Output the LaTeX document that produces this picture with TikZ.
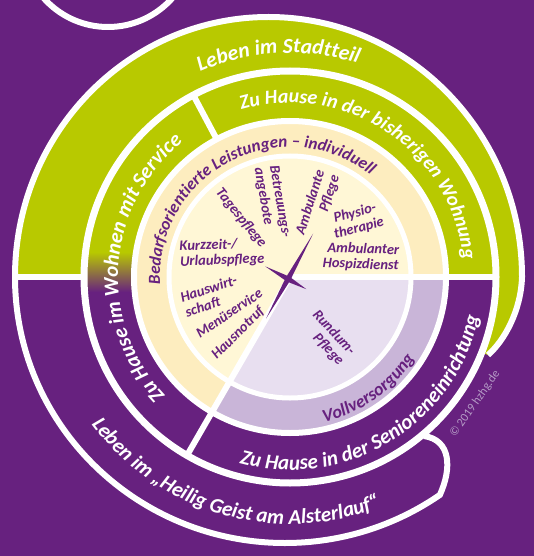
\documentclass[tikz,border=0pt]{standalone}
\usepackage{fontspec}
\setmainfont{Carlito}
\usetikzlibrary{decorations.text,calc}
\definecolor{bg}{HTML}{67217F}
\definecolor{lime}{HTML}{B8C900}
\definecolor{creamring}{HTML}{FDEDBF}
\definecolor{creamdisk}{HTML}{FFF7D6}
\definecolor{lavring}{HTML}{C9B5D8}
\definecolor{lavdisk}{HTML}{E8DFF0}
\definecolor{copyc}{HTML}{B59BC6}
\tikzset{
  wline/.style={white, line width=6pt},
  inlabel/.style={text=bg, font=\fontsize{14.5}{15.5}\selectfont\bfseries\itshape, inner sep=0pt},
}
\begin{document}
\begin{tikzpicture}[x=1pt,y=1pt]
\useasboundingbox (0,0) rectangle (534,-556);
\begin{scope}
\clip (0,0) rectangle (534,-556);
\fill[bg] (0,0) rectangle (534,-556);
% top-left decorative circle
\draw[wline] (108,59) circle[radius=86];

\coordinate (C) at (290,-277);
\coordinate (L) at (15,-277);
\coordinate (R) at (522,-277);
\coordinate (T) at (488,-355);

% outer green spiral band
\fill[lime] (L) arc[start angle=180, end angle=0, x radius=253.5, y radius=260]
   .. controls (521,-310) and (505,-340) .. (T) -- (C) -- cycle;
% outer white outline
\draw[wline] (T) .. controls (505,-340) and (521,-310) .. (R)
   arc[start angle=0, end angle=180, x radius=253.5, y radius=260]
   arc[start angle=180, end angle=305, x radius=270, y radius=266]
   .. controls (452,-468) and (451,-440) .. (424,-436);

% middle ring
\fill[lime] (C) -- ++(0:206) arc[start angle=0, end angle=118, radius=206] -- cycle;
\fill[bg] (C) -- ++(240:206) arc[start angle=240, end angle=360, radius=206] -- cycle;
\begin{scope}
\clip (C) -- ++(118:206) arc[start angle=118, end angle=240, radius=206] -- cycle;
\fill[lime] (0,0) rectangle (534,-252);
\shade[top color=lime, bottom color=bg] (0,-252) rectangle (534,-292);
\fill[bg] (0,-292) rectangle (534,-556);
\end{scope}
% cream / lavender ring
\fill[creamring] (C) circle[radius=156];
\fill[lavring] (C) -- ++(240:156) arc[start angle=240, end angle=360, radius=156] -- cycle;
% inner disk
\fill[creamdisk] (C) circle[radius=121];
\fill[lavdisk] (C) -- ++(240:121) arc[start angle=240, end angle=360, radius=121] -- cycle;

% white lines
\draw[white, line width=5pt] (C) circle[radius=121];
\draw[wline] (C) circle[radius=156];
\draw[white, line width=7pt] (C) circle[radius=206];
\draw[wline] (C) -- ($(C)+(0:206)$);
\draw[wline] (C) -- ($(C)+(240:206)$);
\draw[wline] ($(C)+(118:156)$) -- ($(C)+(118:206)$);
\draw[wline] (L) -- ($(C)+(180:206)$);

% arc texts
\path[decorate, decoration={text along path, text align=center, text color=white,
  text={|\fontsize{21.5}{21.5}\selectfont\bfseries\itshape|Leben im Stadtteil}}]
  ($(C)+(135:224)$) arc[start angle=135, end angle=51, radius=224];
\path[decorate, decoration={text along path, text align=center, text color=white,
  text={|\fontsize{20}{20}\selectfont\bfseries\itshape|Zu Hause in der bisherigen Wohnung}}]
  ($(C)+(116:174)$) arc[start angle=116, end angle=-4, radius=174];
\path[decorate, decoration={text along path, text align=center, text color=white,
  text={|\fontsize{21}{21}\selectfont\bfseries\itshape|Zu Hause im Wohnen mit Service}}]
  ($(C)+(238:172)$) arc[start angle=238, end angle=114, radius=172];
\path[decorate, decoration={text along path, text align=center, text color=white,
  text={|\fontsize{21}{21}\selectfont\bfseries\itshape|Zu Hause in der Senioreneinrichtung}}]
  ($(C)+(236:193)$) arc[start angle=236, end angle=367, radius=193];
\path[decorate, decoration={text along path, text align=center, text color=white,
  text={|\fontsize{21}{21}\selectfont\bfseries\itshape|Leben im „Heilig Geist am Alsterlauf“}}]
  ($(C)+(196:247)$) arc[start angle=196, end angle=312, radius=247];
\path[decorate, decoration={text along path, text align=center, text color=bg,
  text={|\fontsize{17}{17}\selectfont\bfseries\itshape|Bedarfsorientierte Leistungen – individuell}}]
  ($(C)+(192:130)$) arc[start angle=192, end angle=43, radius=130];
\path[decorate, decoration={text along path, text align=center, text color=bg,
  text={|\fontsize{18}{18}\selectfont\bfseries\itshape|Vollversorgung}}]
  ($(C)+(266:149)$) arc[start angle=266, end angle=344, radius=149];

% inner labels
\node[inlabel, rotate=-51] (tag) at (241,-218) {Tagespflege};
\node[inlabel, rotate=-80, align=left] (betr) at (272,-203) {Betreuungs-\\angebote};
\node[inlabel, rotate=72, align=right] (amb) at (318,-205) {Ambulante\\Pflege};
\node[inlabel, rotate=15, align=center] (phys) at (357,-221) {Physio-\\therapie};
\node[inlabel, rotate=-2, align=right] (hosp) at (361,-257) {Ambulanter\\Hospizdienst};
\node[inlabel, rotate=2, align=left] (kurz) at (222,-253) {Kurzzeit-/\\Urlaubspflege};
\node[inlabel, rotate=18, align=left] (hausw) at (211,-296) {Hauswirt-\\schaft};
\node[inlabel, rotate=34] (menu) at (229,-313) {Menüservice};
\node[inlabel, rotate=45] (notruf) at (238,-333) {Hausnotruf};
\node[inlabel, rotate=-47, align=right] (rund) at (328,-338) {Rundum-\\Pflege};

% star
\coordinate (S) at (288,-279);
\fill[bg] ($(S)+(61:52)$) -- ($(S)+(106:3.5)$) -- ($(S)+(151:26)$) -- ($(S)+(196:3.5)$)
  -- ($(S)+(241:45)$) -- ($(S)+(286:3.5)$) -- ($(S)+(331:21)$) -- ($(S)+(16:3.5)$) -- cycle;

% copyright
\node[text=copyc, font=\fontsize{12}{12}\selectfont, rotate=55, inner sep=0pt] (copy) at (475,-404) {© 2019 hzhg.de};
\end{scope}
\end{tikzpicture}
\end{document}
